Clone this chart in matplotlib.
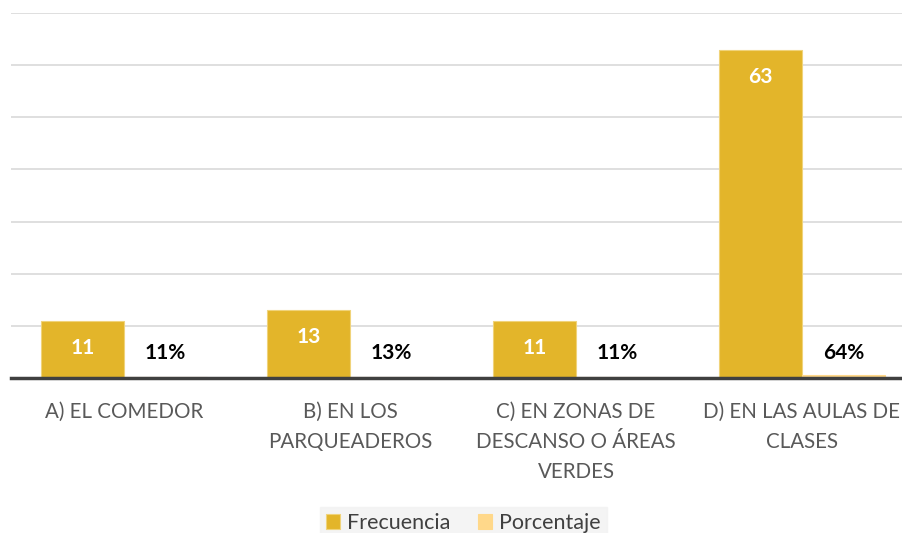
import matplotlib.pyplot as plt
import numpy as np

categorias = ['A) EL COMEDOR', 'B) EN LOS\nPARQUEADEROS',
              'C) EN ZONAS DE\nDESCANSO O ÁREAS\nVERDES', 'D) EN LAS AULAS DE\nCLASES']
frecuencia = [11, 13, 11, 63]
porcentaje = [0.11, 0.13, 0.11, 0.64]

color_frec = '#E3B52A'
color_porc = '#FFD88A'

plt.rcParams['font.family'] = ['Lato', 'DejaVu Sans']

fig = plt.figure(figsize=(9.03, 5.33), dpi=100)
ax = fig.add_axes([11 / 903, 1 - 378 / 533, 904 / 903, (378 - 13) / 533])

x = np.arange(len(categorias))
w = 0.367
b1 = ax.bar(x - w / 2, frecuencia, w, color=color_frec, edgecolor='#F0D37A', linewidth=0.8,
            label='Frecuencia', zorder=3)
b2 = ax.bar(x + w / 2, porcentaje, w, color=color_porc, edgecolor=color_porc, linewidth=0.8,
            label='Porcentaje', zorder=3)

# etiquetas de datos
for xi, v in zip(x, frecuencia):
    ax.text(xi - w / 2, v - 5.2, str(v), ha='center', va='center', color='white',
            fontsize=15, fontweight='bold', zorder=4)
for xi, v in zip(x, porcentaje):
    ax.text(xi + w / 2, max(v, 4.8), f'{v:.0%}', ha='center', va='center', color='black',
            fontsize=15, fontweight='bold', zorder=4)

ax.set_xlim(-0.5, 3.5)
ax.set_ylim(0, 70)
ax.set_yticks(np.arange(0, 71, 10))
ax.yaxis.grid(True, color='#D9D9D9', linewidth=1.2, zorder=0)
ax.tick_params(axis='y', left=False, labelleft=False)
ax.set_xticks(x)
ax.set_xticklabels(categorias, fontsize=14.8, color='#595959', linespacing=1.6)
ax.tick_params(axis='x', bottom=False, pad=14)
for s in ['top', 'right', 'left']:
    ax.spines[s].set_visible(False)
ax.spines['bottom'].set_color('#404040')
ax.spines['bottom'].set_linewidth(2.5)
ax.spines['bottom'].set_zorder(5)

leg = fig.legend(handles=[b1, b2], loc='upper center', bbox_to_anchor=(0.513, 1 - 496 / 533),
                 ncol=2, frameon=True, fontsize=15.5, handlelength=0.65, handleheight=0.65,
                 handletextpad=0.3, columnspacing=1.3, fancybox=False, borderpad=0.3)
leg.get_frame().set_facecolor('#F2F2F2')
leg.get_frame().set_edgecolor('#F2F2F2')
for t in leg.get_texts():
    t.set_color('#404040')

fig.savefig('out.png', dpi=100)
